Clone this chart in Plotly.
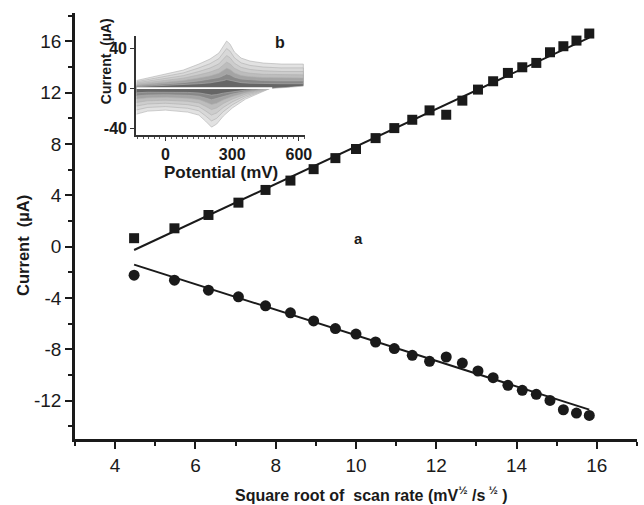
import plotly.graph_objects as go

# ---- main data: square root of scan rate vs peak currents ----
scan_rate = [20, 30, 40, 50, 60, 70, 80, 90, 100, 110, 120, 130, 140, 150,
             160, 170, 180, 190, 200, 210, 220, 230, 240, 250]
sqrt_rate = [r ** 0.5 for r in scan_rate]
anodic_current = [0.65, 1.42, 2.46, 3.42, 4.41, 5.14, 6.03, 6.89, 7.6, 8.45,
                  9.23, 9.88, 10.61, 10.27, 11.37, 12.23, 12.88, 13.53, 13.97,
                  14.31, 15.14, 15.61, 16.05, 16.6]
cathodic_current = [-2.23, -2.62, -3.40, -3.92, -4.62, -5.17, -5.80, -6.39,
                    -6.82, -7.44, -7.95, -8.48, -8.95, -8.61, -9.08, -9.70,
                    -10.22, -10.82, -11.21, -11.52, -11.99, -12.72, -12.98, -13.16]

# fitted lines (slope, intercept)
anodic_fit = (1.46, -6.80)
cathodic_fit = (-0.997, 3.05)

x_ticks = [4, 6, 8, 10, 12, 14, 16]
y_ticks = [-12, -8, -4, 0, 4, 8, 12, 16]

# ---- inset: cyclic voltammograms (outermost loop) ----
cv_fwd_E = [-130, -80, 0, 80, 150, 200, 240, 262, 275, 290, 310, 340, 380, 440, 520, 620]
cv_fwd_I = [7.6, 10, 14, 18, 24, 29, 35, 42, 47, 44, 36, 30, 27, 25, 24, 24]
cv_rev_E = [620, 550, 474, 415, 360, 300, 260, 230, 207, 180, 150, 100, 0, -80, -130]
cv_rev_I = [11, 4, 0, -5.7, -11, -20, -28, -36, -39, -33, -27, -24, -22, -23, -26]
cv_scale = [1.0, 0.84, 0.69, 0.55, 0.42, 0.3, 0.18]
cv_colors = ['#e2e2e2', '#d8d8d8', '#cdcdcd', '#bdbdbd', '#a4a4a4', '#888888', '#666666']
inset_x_ticks = [0, 300, 600]
inset_y_ticks = [-40, 0, 40]

FONT = 'Liberation Sans, Arial, sans-serif'
INK = '#1a1a1a'

fig = go.Figure()

# inset loops
for s, c in zip(cv_scale, cv_colors):
    E = cv_fwd_E + cv_rev_E
    I = [v * s for v in cv_fwd_I + cv_rev_I]
    fig.add_trace(go.Scatter(x=E, y=I, mode='lines', fill='toself', fillcolor=c,
                             line=dict(color='#b0b0b0', width=0.6),
                             xaxis='x2', yaxis='y2', showlegend=False, hoverinfo='skip'))
fig.add_trace(go.Scatter(x=[cv_fwd_E[0], 480], y=[0, 0], mode='lines',
                         line=dict(color='white', width=1.6),
                         xaxis='x2', yaxis='y2', showlegend=False, hoverinfo='skip'))

# fit lines
xf = [sqrt_rate[0], sqrt_rate[-1]]
fig.add_trace(go.Scatter(x=xf, y=[anodic_fit[0] * v + anodic_fit[1] for v in xf],
                         mode='lines', line=dict(color=INK, width=2), showlegend=False))
fig.add_trace(go.Scatter(x=xf, y=[cathodic_fit[0] * v + cathodic_fit[1] for v in xf],
                         mode='lines', line=dict(color=INK, width=2), showlegend=False))
# markers
fig.add_trace(go.Scatter(x=sqrt_rate, y=anodic_current, mode='markers',
                         marker=dict(symbol='square', size=10, color=INK), showlegend=False))
fig.add_trace(go.Scatter(x=sqrt_rate, y=cathodic_current, mode='markers',
                         marker=dict(symbol='circle', size=11, color=INK), showlegend=False))

fig.update_layout(
    width=644, height=505,
    margin=dict(l=75, r=0, t=13, b=66),
    paper_bgcolor='white', plot_bgcolor='white',
    font=dict(family=FONT, color=INK),
    xaxis=dict(range=[3, 17], tickvals=x_ticks, ticktext=[str(v) for v in x_ticks],
               showgrid=False, zeroline=False,
               showline=True, linewidth=2.5, linecolor=INK,
               ticks='outside', ticklen=7, tickwidth=2, tickcolor=INK,
               tickfont=dict(size=19, family=FONT, color=INK),
               minor=dict(dtick=1, tick0=3, ticks='outside', ticklen=4, tickwidth=2, tickcolor=INK)),
    yaxis=dict(range=[-15, 18.2], tickvals=y_ticks, ticktext=[str(v) for v in y_ticks],
               showgrid=False, zeroline=False,
               showline=True, linewidth=2.5, linecolor=INK,
               ticks='outside', ticklen=7, tickwidth=2, tickcolor=INK,
               tickfont=dict(size=19, family=FONT, color=INK),
               minor=dict(dtick=2, tick0=0, ticks='outside', ticklen=4, tickwidth=2, tickcolor=INK)),
    xaxis2=dict(domain=[0.1084, 0.4095], anchor='y2', range=[-133, 628],
                tickvals=inset_x_ticks, ticktext=[str(v) for v in inset_x_ticks],
                showgrid=False, zeroline=False,
                showline=True, linewidth=1.5, linecolor='#333',
                ticks='outside', ticklen=4, tickwidth=1.2, tickcolor='#333',
                tickfont=dict(size=16, family=FONT, color=INK, weight='bold'),
                minor=dict(dtick=25, tick0=0, ticks='outside', ticklen=2, tickwidth=1, tickcolor='#555')),
    yaxis2=dict(domain=[0.714, 0.945], anchor='x2', range=[-46.7, 51.6],
                tickvals=inset_y_ticks, ticktext=[str(v) for v in inset_y_ticks],
                showgrid=False, zeroline=False,
                showline=True, linewidth=1.5, linecolor='#333',
                ticks='outside', ticklen=4, tickwidth=1.2, tickcolor='#333',
                tickfont=dict(size=16, family=FONT, color=INK, weight='bold')),
)

ann = [
    dict(text='<b>Square root of  scan rate (mV<sup>½</sup> /s<sup> ½</sup> )</b>', x=0.527, y=-0.128,
         xref='paper', yref='paper', font=dict(size=16)),
    dict(text='<b>Current  (µA)</b>', x=-0.093, y=0.455, xref='paper', yref='paper',
         textangle=-90, font=dict(size=16.5)),
    dict(text='<b>a</b>', x=10.06, y=0.64, xref='x', yref='y', font=dict(size=15)),
    dict(text='<b>b</b>', x=0.365, y=0.930, xref='paper', yref='paper', font=dict(size=16)),
    dict(text='<b>Potential (mV)</b>', x=0.26, y=0.625, xref='paper', yref='paper',
         font=dict(size=17)),
    dict(text='<b>Current  (µA)</b>', x=0.0545, y=0.886, xref='paper', yref='paper',
         textangle=-90, font=dict(size=14)),
]
for a in ann:
    a['font'].update(family=FONT, color=INK)
    a.update(showarrow=False, xanchor='center', yanchor='middle')
fig.update_layout(annotations=ann)

fig.write_html('out.html')
